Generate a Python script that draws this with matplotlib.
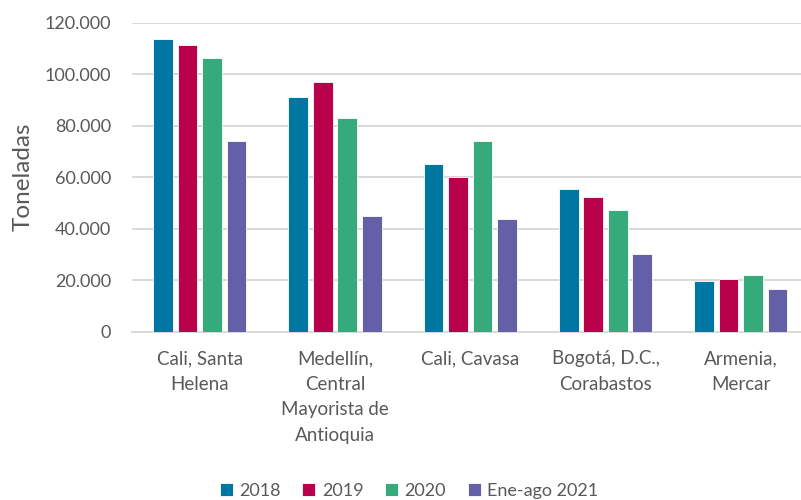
import matplotlib
matplotlib.use("Agg")
import matplotlib.pyplot as plt
import numpy as np
from matplotlib.ticker import FuncFormatter

categories = ["Cali, Santa\nHelena", "Medellín,\nCentral\nMayorista de\nAntioquia",
              "Cali, Cavasa", "Bogotá, D.C.,\nCorabastos", "Armenia,\nMercar"]
series_names = ["2018", "2019", "2020", "Ene-ago 2021"]
v2018 = [113600, 91100, 65100, 55400, 19800]
v2019 = [111300, 97100, 60100, 52200, 20300]
v2020 = [106200, 82900, 74200, 47100, 22000]
v2021 = [74200, 44900, 43600, 30300, 16600]
yticks = [0, 20000, 40000, 60000, 80000, 100000, 120000]

colors = ["#0077A3", "#B9004B", "#36AA7A", "#6460A8"]
series = [v2018, v2019, v2020, v2021]

plt.rcParams['font.family'] = ['Lato', 'DejaVu Sans']
txt = "#595959"

fig = plt.figure(figsize=(8.01, 5.0), dpi=100)
ax = fig.add_axes([132/801, (500-331.7)/500, 676.5/801, 309/500])

x = np.arange(len(categories))
pitch = 0.181
w = 0.146
for i, (vals, c, name) in enumerate(zip(series, colors, series_names)):
    ax.bar(x + (i - 1.5) * pitch, vals, width=w, color=c, label=name,
           edgecolor="white", linewidth=0.6, zorder=3)

ax.set_xlim(-0.5, 4.5)
ax.set_ylim(0, 120000)
ax.set_yticks(yticks)
ax.yaxis.set_major_formatter(FuncFormatter(lambda v, p: f"{int(v):,}".replace(",", ".")))
ax.grid(axis="y", color="#d9d9d9", linewidth=1.4, zorder=0)
ax.set_axisbelow(True)
for s in ["top", "right", "left"]:
    ax.spines[s].set_visible(False)
ax.spines["bottom"].set_color("#d9d9d9")
ax.spines["bottom"].set_linewidth(1.4)
ax.tick_params(axis="both", length=0, labelsize=13, colors=txt)
ax.tick_params(axis="y", pad=15)
ax.tick_params(axis="x", pad=13.5, labelsize=13.5)
ax.set_xticks(x)
ax.set_xticklabels(categories, linespacing=1.6, va="top")
ax.set_ylabel("Toneladas", fontsize=17.5, color=txt, labelpad=8)

leg = fig.legend(loc="center", bbox_to_anchor=(409/801, 1 - 491/500), ncol=4, frameon=False,
                 fontsize=13, handlelength=0.72, handleheight=0.72, handletextpad=0.35,
                 columnspacing=1.2, labelcolor=txt)

fig.savefig("out.png", dpi=100)
